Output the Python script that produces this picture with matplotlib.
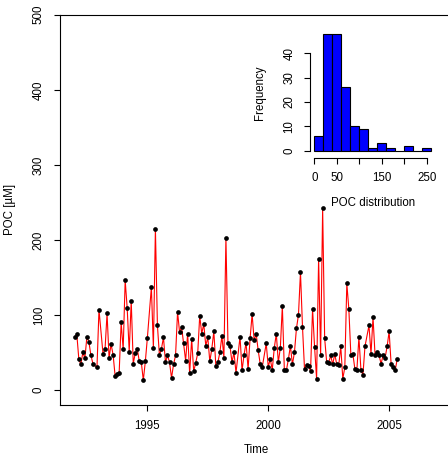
import matplotlib
matplotlib.use('Agg')
import matplotlib.pyplot as plt
import numpy as np
import pandas as pd

plt.rcParams['font.family'] = ['Liberation Sans', 'DejaVu Sans']

# months since Jan 1992 (a few months have no sample)
months = [0, 1, 2, 3, 4, 5, 6, 7, 8, 9, 11, 12, 14, 15, 16, 17, 18, 19, 20,
          21, 22, 23, 24, 25, 26, 27, 28, 29, 30, 31, 32, 33, 34, 35, 36, 38,
          39, 40, 41, 42, 43, 44, 45, 46, 47, 48, 49, 50, 51, 52, 53, 54, 55,
          56, 57, 58, 59, 60, 61, 62, 63, 64, 65, 66, 67, 68, 69, 70, 71, 72,
          73, 74, 75, 76, 77, 78, 79, 80, 82, 83, 84, 85, 86, 87, 88, 89, 90,
          91, 92, 93, 95, 96, 97, 98, 99, 100, 101, 102, 103, 104, 105, 106,
          107, 108, 109, 110, 111, 112, 113, 114, 115, 116, 117, 118, 119, 120,
          121, 122, 123, 124, 125, 126, 127, 128, 129, 130, 131, 132, 133, 134,
          135, 136, 137, 138, 139, 140, 141, 142, 143, 144, 146, 147, 148, 149,
          150, 151, 152, 153, 154, 155, 156, 157, 158, 159, 160]

poc = [71, 74, 41, 34, 50, 42, 71, 64, 46, 35, 30, 107, 48, 54, 102, 43, 61,
       47, 19, 21, 22, 90, 54, 146, 109, 51, 119, 35, 49, 55, 38, 37, 13, 38,
       69, 137, 56, 215, 86, 46, 55, 70, 37, 46, 37, 16, 34, 46, 104, 77, 84,
       62, 39, 75, 22, 68, 25, 36, 49, 99, 75, 88, 59, 70, 38, 55, 78, 32, 37,
       50, 72, 43, 203, 63, 59, 37, 50, 23, 71, 26, 47, 63, 28, 69, 101, 66,
       75, 53, 35, 30, 62, 31, 41, 27, 56, 75, 37, 56, 112, 26, 26, 41, 59, 34,
       50, 82, 100, 157, 84, 28, 33, 32, 25, 108, 57, 15, 175, 47, 242, 69, 37,
       36, 46, 34, 48, 34, 33, 58, 15, 30, 142, 108, 47, 48, 28, 27, 70, 27,
       20, 58, 86, 48, 97, 47, 51, 46, 35, 46, 43, 58, 78, 34, 30, 26, 41]

hist_breaks = [0, 20, 40, 60, 80, 100, 120, 140, 160, 180, 200, 220, 240, 260]

time = 1992 + np.array(months) / 12.0

fig = plt.figure(figsize=(4.48, 4.57), dpi=100)

# main time series
ax = fig.add_axes([60.3 / 448, 52 / 457, 391.7 / 448, 390.3 / 457])
ax.plot(time, poc, color='red', lw=0.8, zorder=2)
ax.plot(time, poc, 'o', color='black', ms=3.4, mew=0, zorder=3)
ax.set_xlim(1991.4, 2007.6)
ax.set_ylim(-20, 500)
ax.set_xticks([1995, 2000, 2005])
ax.set_yticks([0, 100, 200, 300, 400, 500])
for s in ax.spines.values():
    s.set_linewidth(0.8)
ax.tick_params(direction='out', length=4.6, width=0.8, labelsize=8.3, pad=6.5)
for lab in ax.get_yticklabels():
    lab.set_rotation(90)
    lab.set_va('center')
ax.set_xlabel('Time', fontsize=8.3)
ax.xaxis.set_label_coords(0.5, -0.1)
ax.xaxis.label.set_va('top')
ax.set_ylabel('POC [µM]', fontsize=8.3)
ax.yaxis.set_label_coords(-0.112, 0.5)

# inset histogram
ins = fig.add_axes([309.6 / 448, (457 - 155.4) / 457, 126.3 / 448, 126.3 / 457])
ins.set_facecolor('none')
counts = pd.cut(pd.Series(poc), hist_breaks, include_lowest=True).value_counts(sort=False).values
ins.bar(hist_breaks[:-1], counts, width=20, align='edge', color='#0000ff',
        edgecolor='black', linewidth=0.8)
ins.set_xlim(-10.4, 270.4)
ins.set_ylim(-1.92, 49.92)
ins.spines['top'].set_visible(False)
ins.spines['right'].set_visible(False)
ins.spines['left'].set_bounds(0, 40)
ins.spines['bottom'].set_bounds(0, 250)
ins.spines['bottom'].set_position(('outward', 2))
for s in ins.spines.values():
    s.set_linewidth(0.8)
ins.set_xticks([0, 50, 100, 150, 200, 250])
ins.set_xticklabels(['0', '50', '', '150', '', '250'])
ins.set_yticks([0, 10, 20, 30, 40])
ins.tick_params(direction='out', length=4.6, width=0.8, labelsize=8.3, pad=5.5)
for lab in ins.get_yticklabels():
    lab.set_rotation(90)
    lab.set_va('center')
ins.set_xlabel('POC distribution', fontsize=8.3)
ins.xaxis.set_label_coords(0.5, -0.33)
ins.xaxis.label.set_va('top')
ins.set_ylabel('Frequency', fontsize=8.3)
ins.yaxis.set_label_coords(-0.345, 0.5)

fig.savefig('out.png', dpi=100)
